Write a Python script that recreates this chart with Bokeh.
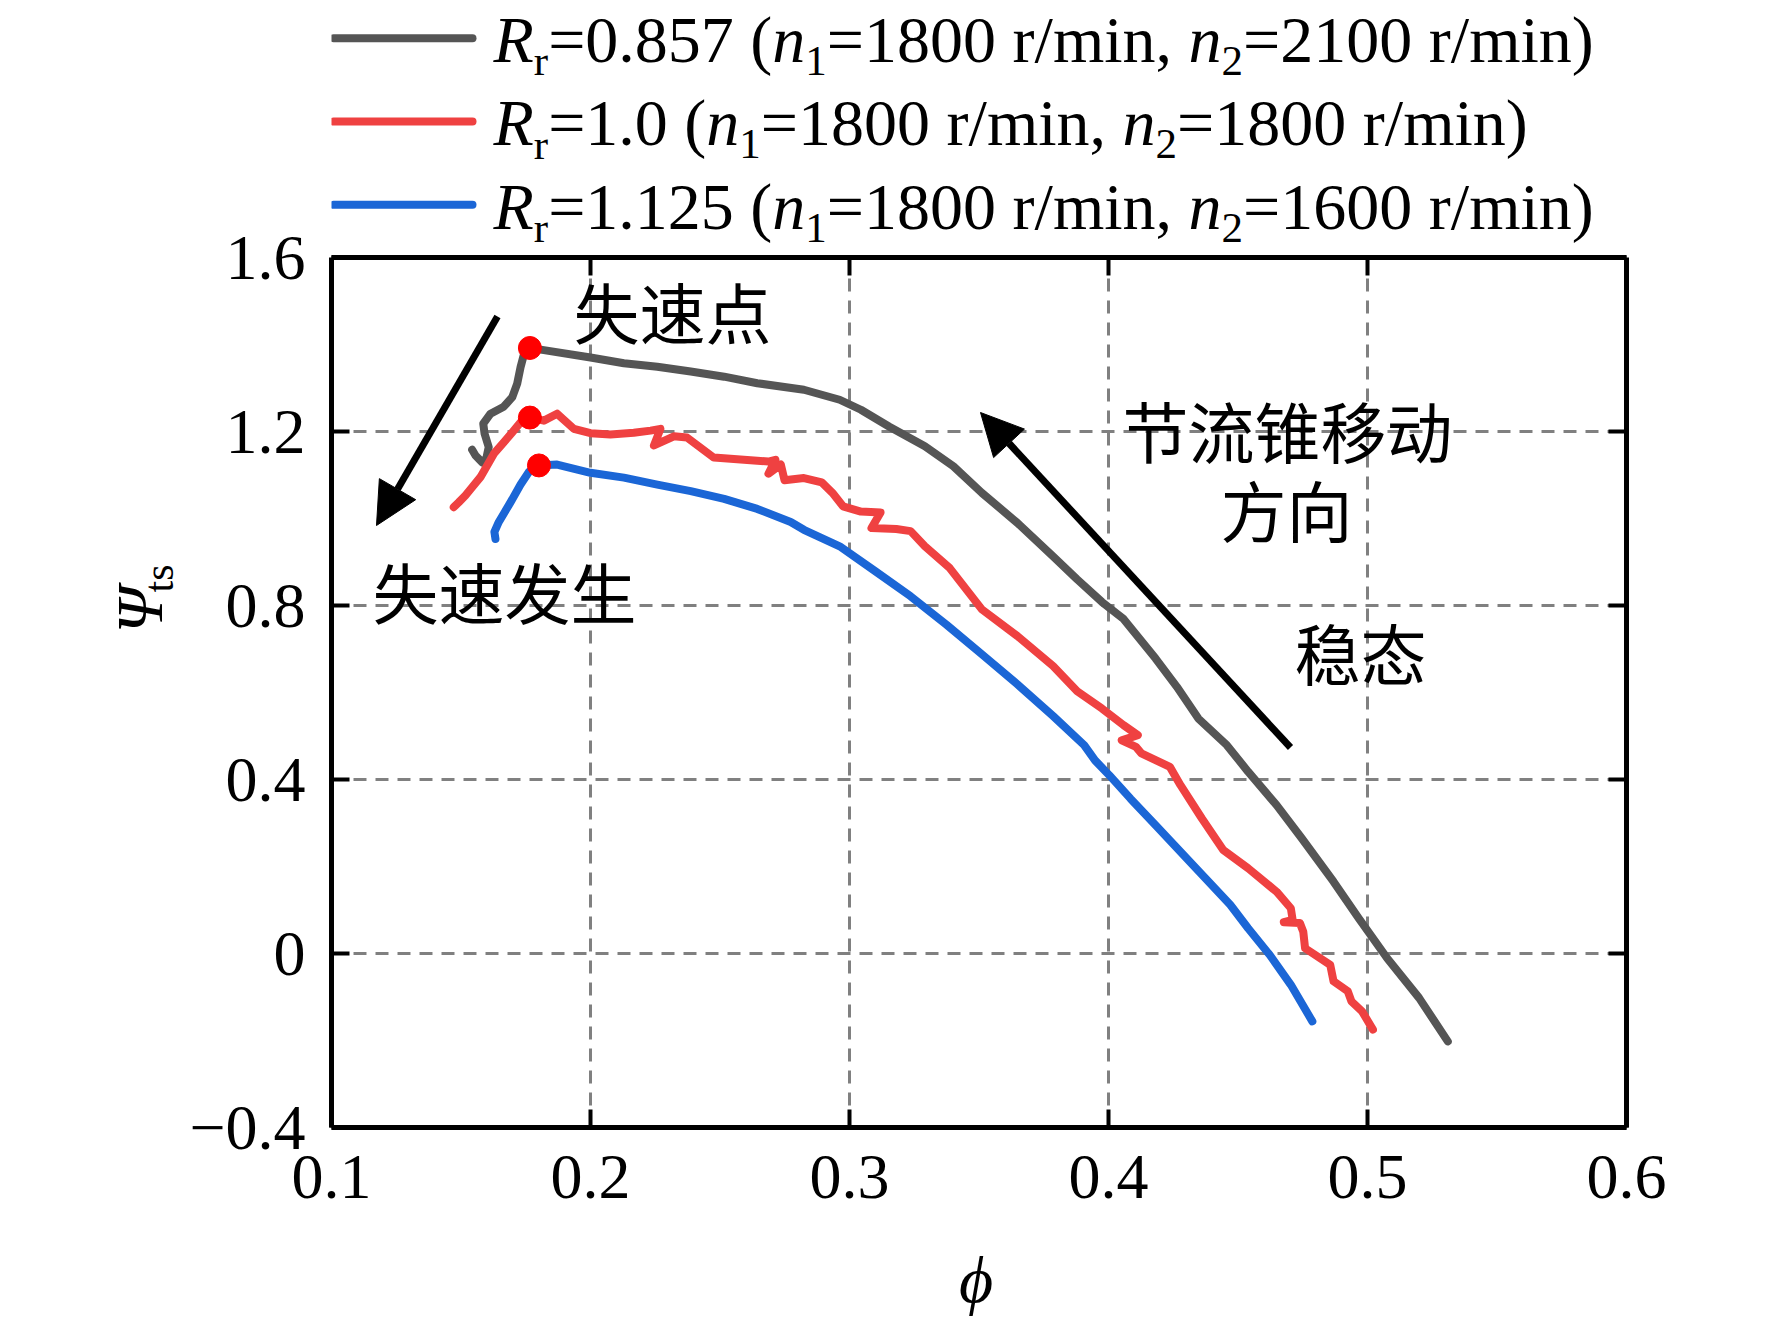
import math
from bokeh.plotting import figure
from bokeh.layouts import column, row
from bokeh.models import Label, Arrow, NormalHead, FixedTicker, LinearAxis, Range1d
from bokeh.embed import file_html
from bokeh.resources import INLINE

# ---------------- data ----------------
gray_phi = [0.1543, 0.1556, 0.1582, 0.1598, 0.1607, 0.1591, 0.1586, 0.1614, 0.1665, 0.1698,
            0.1717, 0.1730, 0.1742, 0.1766, 0.1820, 0.2000, 0.2129, 0.2258, 0.2387, 0.2516,
            0.2644, 0.2824, 0.2962, 0.3044, 0.3154, 0.3291, 0.3401, 0.3511, 0.3648, 0.3786,
            0.3879, 0.3975, 0.4058, 0.4182, 0.4264, 0.4347, 0.4457, 0.4539, 0.4649, 0.4746,
            0.4869, 0.4966, 0.5076, 0.5199, 0.5310]
gray_psi = [1.158, 1.145, 1.129, 1.139, 1.164, 1.195, 1.218, 1.241, 1.257, 1.279,
            1.310, 1.348, 1.375, 1.392, 1.387, 1.370, 1.357, 1.349, 1.338, 1.326,
            1.311, 1.296, 1.273, 1.250, 1.211, 1.166, 1.120, 1.059, 0.990, 0.913,
            0.860, 0.808, 0.769, 0.678, 0.613, 0.540, 0.479, 0.418, 0.341, 0.265,
            0.165, 0.081, -0.011, -0.102, -0.202]

red_phi = [0.1472, 0.1491, 0.1517, 0.1543, 0.1575, 0.1601, 0.1627, 0.1665, 0.1698, 0.1730,
           0.1766, 0.1820, 0.1871, 0.1936, 0.2000, 0.2077, 0.2167, 0.2232, 0.2270, 0.2245,
           0.2322, 0.2373, 0.2476, 0.2644, 0.2687, 0.2714, 0.2687, 0.2735, 0.2749, 0.2824,
           0.2893, 0.2934, 0.2975, 0.3044, 0.3120, 0.3085, 0.3181, 0.3236, 0.3291, 0.3387,
           0.3511, 0.3648, 0.3786, 0.3879, 0.3975, 0.4058, 0.4113, 0.4051, 0.4106, 0.4127,
           0.4237, 0.4278, 0.4360, 0.4443, 0.4539, 0.4649, 0.4704, 0.4711, 0.4677, 0.4739,
           0.4752, 0.4759, 0.4856, 0.4869, 0.4924, 0.4938, 0.4979, 0.5021]
red_psi = [1.026, 1.037, 1.053, 1.072, 1.095, 1.122, 1.149, 1.175, 1.198, 1.221,
           1.232, 1.225, 1.241, 1.206, 1.196, 1.193, 1.197, 1.202, 1.206, 1.168,
           1.189, 1.186, 1.140, 1.133, 1.131, 1.135, 1.103, 1.124, 1.088, 1.093,
           1.083, 1.059, 1.028, 1.016, 1.014, 0.978, 0.976, 0.971, 0.936, 0.886,
           0.791, 0.730, 0.661, 0.603, 0.563, 0.525, 0.502, 0.490, 0.475, 0.460,
           0.429, 0.387, 0.311, 0.238, 0.196, 0.142, 0.104, 0.077, 0.072, 0.070,
           0.050, 0.012, -0.026, -0.064, -0.087, -0.110, -0.133, -0.175]

blue_phi = [0.1633, 0.1629, 0.1646, 0.1665, 0.1691, 0.1730, 0.1762, 0.1801, 0.1871, 0.2000,
            0.2129, 0.2258, 0.2387, 0.2516, 0.2644, 0.2773, 0.2824, 0.2962, 0.3099, 0.3236,
            0.3374, 0.3511, 0.3648, 0.3786, 0.3906, 0.3948, 0.4003, 0.4085, 0.4182, 0.4278,
            0.4374, 0.4470, 0.4539, 0.4622, 0.4704, 0.4787]
blue_psi = [0.953, 0.969, 0.992, 1.011, 1.037, 1.078, 1.107, 1.122, 1.124, 1.105,
            1.094, 1.078, 1.063, 1.045, 1.022, 0.992, 0.974, 0.936, 0.879, 0.821,
            0.756, 0.688, 0.619, 0.546, 0.479, 0.444, 0.410, 0.356, 0.295, 0.234,
            0.173, 0.112, 0.058, -0.003, -0.072, -0.156]

stall_phi = [0.1766, 0.1766, 0.1801]
stall_psi = [1.392, 1.232, 1.122]

series_names = ["0.857", "1.0", "1.125"]
series_n2 = ["2100", "1800", "1600"]
series_colors = ["#555555", "#EF4141", "#1B66D6"]

x_ticks = [0.1, 0.2, 0.3, 0.4, 0.5, 0.6]
x_tick_labels = ["0.1", "0.2", "0.3", "0.4", "0.5", "0.6"]
y_ticks = [-0.4, 0.0, 0.4, 0.8, 1.2, 1.6]
y_tick_labels = ["\u22120.4", "0", "0.4", "0.8", "1.2", "1.6"]
X_MIN, X_MAX, Y_MIN, Y_MAX = 0.1, 0.6, -0.4, 1.6

SERIF = "Liberation Serif"
CJK = "Noto Sans CJK SC"

# ---------------- page geometry (pixels from the top-left of the page) ----------------
PW, PH = 1770, 1318          # whole layout
YL_R = 183                   # right edge of the y-title strip
MAIN_B = 1238                # bottom of main figure
FL, FT, FR, FB = 331, 257, 1626, 1127   # edges of the plotting box
BASE_FIX = 0.32              # Bokeh draws 'alphabetic' text this many em lower
TICK = 18                    # inward tick length, px
GRID = dict(line_color="#808080", line_dash="13 9", line_width=3)
PX_PER_Y = (FB - FT) / (Y_MAX - Y_MIN)
PX_PER_X = (FR - FL) / (X_MAX - X_MIN)
Y_TOP = Y_MAX + FT / PX_PER_Y       # data value at the top of the page (legend room)


def X(px):
    return X_MIN + (px - FL) / PX_PER_X


def Y(py):
    return Y_MAX - (py - FT) / PX_PER_Y


def blank(w, h, x0, x1, y0, y1):
    """Helper figure whose data coordinates equal page pixels (y downwards)."""
    f = figure(width=w, height=h, x_range=Range1d(x0, x1), y_range=Range1d(y1, y0),
               output_backend="svg", toolbar_location=None, min_border=0,
               x_axis_location=None, y_axis_location=None)
    f.outline_line_color = None
    f.background_fill_color = "white"
    f.border_fill_color = "white"
    f.grid.visible = False
    return f


# ---------------- main figure (frame reaches the page top; legend lives there) ----------------
MW, MH = PW - YL_R, MAIN_B
p = figure(width=MW, height=MH, x_range=Range1d(X_MIN, X_MAX), y_range=Range1d(Y_MIN, Y_TOP),
           output_backend="svg", toolbar_location=None,
           min_border_left=FL - YL_R, min_border_right=PW - FR,
           min_border_top=0, min_border_bottom=MAIN_B - FB)
p.background_fill_color = "white"
p.border_fill_color = "white"
p.outline_line_color = None


def style_axis(ax, ticks, labels, show):
    ax.ticker = FixedTicker(ticks=ticks)
    ax.major_label_overrides = {t: l for t, l in zip(ticks, labels)}
    ax.axis_line_color = "black"
    ax.axis_line_width = 5
    ax.major_tick_in = TICK
    ax.major_tick_out = 0
    ax.major_tick_line_width = 4
    ax.major_tick_line_color = "black"
    ax.minor_tick_line_color = None
    ax.major_label_text_font = SERIF
    if show:
        ax.major_label_text_font_size = "64px"
        ax.major_label_text_color = "black"
    else:
        ax.major_label_text_font_size = "1px"
        ax.major_label_text_color = None
        ax.major_label_standoff = 0


style_axis(p.xaxis[0], x_ticks, x_tick_labels, True)
style_axis(p.yaxis[0], y_ticks, y_tick_labels, True)
p.yaxis[0].bounds = (Y_MIN, Y_MAX)
p.xaxis[0].major_label_standoff = 28
p.yaxis[0].major_label_standoff = 26
right_ax = LinearAxis(bounds=(Y_MIN, Y_MAX))
style_axis(right_ax, y_ticks, y_tick_labels, False)
p.add_layout(right_ax, "right")

# horizontal grid from the library; vertical grid lines stop at the top of the box
p.xgrid[0].visible = False
p.ygrid[0].ticker = FixedTicker(ticks=y_ticks)
p.ygrid[0].grid_line_color = GRID["line_color"]
p.ygrid[0].grid_line_dash = GRID["line_dash"]
p.ygrid[0].grid_line_width = GRID["line_width"]
inner = x_ticks[1:-1]
p.segment(x0=inner, y0=[Y_MIN] * len(inner), x1=inner, y1=[Y_MAX] * len(inner), **GRID)

# top edge of the box with its inward ticks
p.line([X_MIN, X_MAX], [Y_MAX, Y_MAX], line_color="black", line_width=5, line_cap="square")
p.segment(x0=inner, y0=[Y_MAX] * len(inner), x1=inner, y1=[Y_MAX - TICK / PX_PER_Y] * len(inner),
          line_color="black", line_width=4)

for xs, ys, c in ((gray_phi, gray_psi, series_colors[0]),
                  (red_phi, red_psi, series_colors[1]),
                  (blue_phi, blue_psi, series_colors[2])):
    p.line(xs, ys, line_color=c, line_width=8, line_join="round", line_cap="round")
p.scatter(stall_phi, stall_psi, size=23, fill_color="#FF0000", line_color="#FF0000")

for (x0, y0, x1, y1) in ((497, 316, 376, 525), (1290, 747, 980, 412)):
    p.add_layout(Arrow(end=NormalHead(size=42, fill_color="black", line_color="black"),
                       x_start=X(x0), y_start=Y(y0), x_end=X(x1), y_end=Y(y1),
                       line_color="black", line_width=7))


def cjk(txt, px, py, align):
    p.add_layout(Label(x=X(px), y=Y(py), text=txt, text_font=CJK, text_font_size="66px",
                       text_align=align, text_baseline="middle", text_color="black"))


cjk("失速点", 573, 309, "left")
cjk("失速发生", 372, 589, "left")
cjk("节流锥移动", 1287, 428, "center")
cjk("方向", 1286, 507, "center")
cjk("稳态", 1360, 650, "center")


def text_at(f, txt, x, y, size, italic=False, align="left", angle=0.0):
    f.add_layout(Label(x=x, y=y, text=txt, text_font=SERIF, text_font_size=f"{size}px",
                       text_font_style="italic" if italic else "normal",
                       text_align=align, text_baseline="alphabetic", angle=angle,
                       text_color="black"))


# ---------------- legend (inside the main frame, above the box) ----------------
REG = {c: 500 for c in "0123456789"}
REG.update({".": 250, " ": 250, "(": 333, ")": 333, "=": 564, ",": 250, "/": 278,
            "r": 333, "m": 778, "i": 278, "n": 500})
ITA = {"R": 611, "n": 500}


def width(s, size, italic):
    tab = ITA if italic else REG
    return sum(tab[c] for c in s) * size / 1000.0


MAIN, SUB, DROP = 66, 43, 14
leg_y = [37.7, 121.0, 204.3]
for i in range(3):
    ly = leg_y[i]
    p.segment(x0=[X(333)], y0=[Y(ly)], x1=[X(472)], y1=[Y(ly)], line_color=series_colors[i],
              line_width=8, line_cap="round")
    x = 493.0
    for txt, italic, sub in [("R", True, False), ("r", False, True),
                             ("=" + series_names[i] + " (", False, False),
                             ("n", True, False), ("1", False, True),
                             ("=1800 r/min, ", False, False),
                             ("n", True, False), ("2", False, True),
                             ("=" + series_n2[i] + " r/min)", False, False)]:
        size = SUB if sub else MAIN
        base = ly + 22.5 + (DROP if sub else 0)
        text_at(p, txt, X(x), Y(base - BASE_FIX * size), size, italic)
        x += width(txt, size, italic)

# ---------------- y title strip ----------------
ylab = blank(YL_R, PH, 0, YL_R, 0, PH)
text_at(ylab, "\u03a8", 160 - BASE_FIX * 66, 633, 66, italic=True, angle=math.pi / 2)
text_at(ylab, "ts", 172 - BASE_FIX * 42, 592, 42, angle=math.pi / 2)

# ---------------- x title strip ----------------
xlab = blank(MW, PH - MAIN_B, YL_R, PW, MAIN_B, PH)
text_at(xlab, "\u03d5", 973, 1300 - BASE_FIX * 66, 66, italic=True, align="center")

layout = row(ylab, column(p, xlab, spacing=0), spacing=0)
open("out.html", "w").write(file_html(layout, INLINE))
